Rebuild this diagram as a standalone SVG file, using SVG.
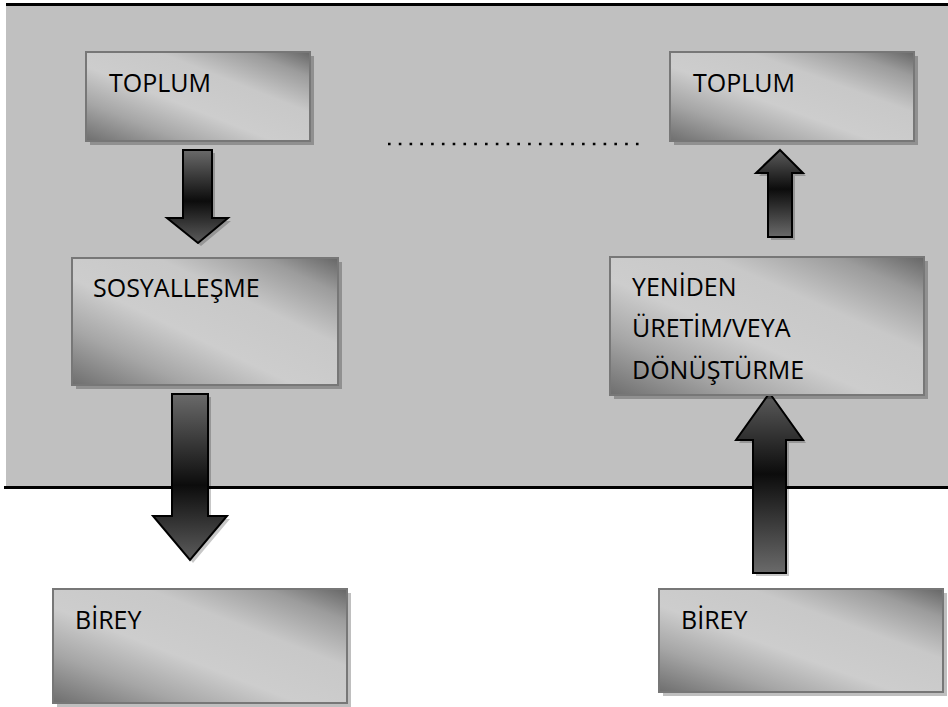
<svg xmlns="http://www.w3.org/2000/svg" width="948" height="707" viewBox="0 0 948 707">
  <defs>
    <linearGradient id="boxGrad" x1="0" y1="1" x2="1" y2="0">
      <stop offset="0" stop-color="#6e6e6e"/>
      <stop offset="0.22" stop-color="#a6a6a6"/>
      <stop offset="0.42" stop-color="#cdcdcd"/>
      <stop offset="0.66" stop-color="#c8c8c8"/>
      <stop offset="0.86" stop-color="#9c9c9c"/>
      <stop offset="1" stop-color="#666666"/>
    </linearGradient>
    <linearGradient id="downGrad" x1="0" y1="0" x2="0" y2="1">
      <stop offset="0" stop-color="#6a6a6a"/>
      <stop offset="0.55" stop-color="#0c0c0c"/>
      <stop offset="1" stop-color="#5c5c5c"/>
    </linearGradient>
    <linearGradient id="upGrad" x1="0" y1="1" x2="0" y2="0">
      <stop offset="0" stop-color="#6a6a6a"/>
      <stop offset="0.55" stop-color="#0c0c0c"/>
      <stop offset="1" stop-color="#5c5c5c"/>
    </linearGradient>
  </defs>
  <style>
    .box { fill: url(#boxGrad); stroke: #777777; stroke-width: 2; }
    .shadow { fill: #000000; fill-opacity: 0.25; }
    .lbl { font-family: "Open Sans", "Liberation Sans", Arial, sans-serif; font-size: 25px; fill: #000000; }
    .down { fill: url(#downGrad); stroke: #000000; stroke-width: 2; stroke-linejoin: miter; }
    .up { fill: url(#upGrad); stroke: #000000; stroke-width: 2; stroke-linejoin: miter; }
    .ashadow { fill: #000000; fill-opacity: 0.22; }
  </style>

  <rect x="0" y="0" width="948" height="707" fill="#ffffff"/>
  <!-- gray panel -->
  <rect x="6" y="6" width="942" height="480" fill="#c0c0c0"/>
  <rect x="6" y="3" width="942" height="3" fill="#000000"/>
  <rect x="4" y="486" width="944" height="3" fill="#000000"/>

  <g id="connectors">
    <g id="arrow-toplum-sosyallesme">
      <polygon class="ashadow" points="186,153 215,153 215,221 231,221 201,246 170,221 186,221"/>
      <polygon class="down" points="183,150 212,150 212,218 228,218 198,243 167,218 183,218"/>
    </g>
    <g id="arrow-sosyallesme-birey">
      <polygon class="ashadow" points="175,397 211,397 211,519 230,519 193,563 156,519 175,519"/>
      <polygon class="down" points="172,394 208,394 208,516 227,516 190,560 153,516 172,516"/>
    </g>
    <g id="arrow-yeniden-toplum">
      <polygon class="ashadow" points="783,153 806,176 795,176 795,240 771,240 771,176 759,176"/>
      <polygon class="up" points="780,150 803,173 792,173 792,237 768,237 768,173 756,173"/>
    </g>
    <g id="arrow-birey-yeniden">
      <polygon class="ashadow" points="772.5,396 806,443 789,443 789,576 756,576 756,443 739,443"/>
      <polygon class="up" points="769.5,393 803,440 786,440 786,573 753,573 753,440 736,440"/>
    </g>
    <line id="dotted" x1="388" y1="144" x2="640" y2="144" stroke="#000000" stroke-width="2.6" stroke-dasharray="2.6 8.18"/>
  </g>

  <g id="toplum-left">
    <rect class="shadow" x="90" y="56" width="224" height="89"/>
    <rect class="box" x="86" y="52" width="224" height="89"/>
    <text class="lbl" x="109" y="92">TOPLUM</text>
  </g>

  <g id="sosyallesme">
    <rect class="shadow" x="76" y="262" width="266" height="127"/>
    <rect class="box" x="72" y="258" width="266" height="127"/>
    <text class="lbl" x="93" y="297">SOSYALLEŞME</text>
  </g>

  <g id="birey-left">
    <rect class="shadow" x="57" y="593" width="294" height="114"/>
    <rect class="box" x="53" y="589" width="294" height="114"/>
    <text class="lbl" x="75" y="629">BİREY</text>
  </g>

  <g id="toplum-right">
    <rect class="shadow" x="674" y="56" width="244" height="89"/>
    <rect class="box" x="670" y="52" width="244" height="89"/>
    <text class="lbl" x="693" y="92">TOPLUM</text>
  </g>

  <g id="yeniden">
    <rect class="shadow" x="614" y="261" width="314" height="138"/>
    <rect class="box" x="610" y="257" width="314" height="138"/>
    <text class="lbl" x="632" y="296">YENİDEN</text>
    <text class="lbl" x="632" y="337">ÜRETİM/VEYA</text>
    <text class="lbl" x="632" y="379">DÖNÜŞTÜRME</text>
  </g>

  <g id="birey-right">
    <rect class="shadow" x="663" y="593" width="284" height="103"/>
    <rect class="box" x="659" y="589" width="284" height="103"/>
    <text class="lbl" x="681" y="629">BİREY</text>
  </g>
</svg>
